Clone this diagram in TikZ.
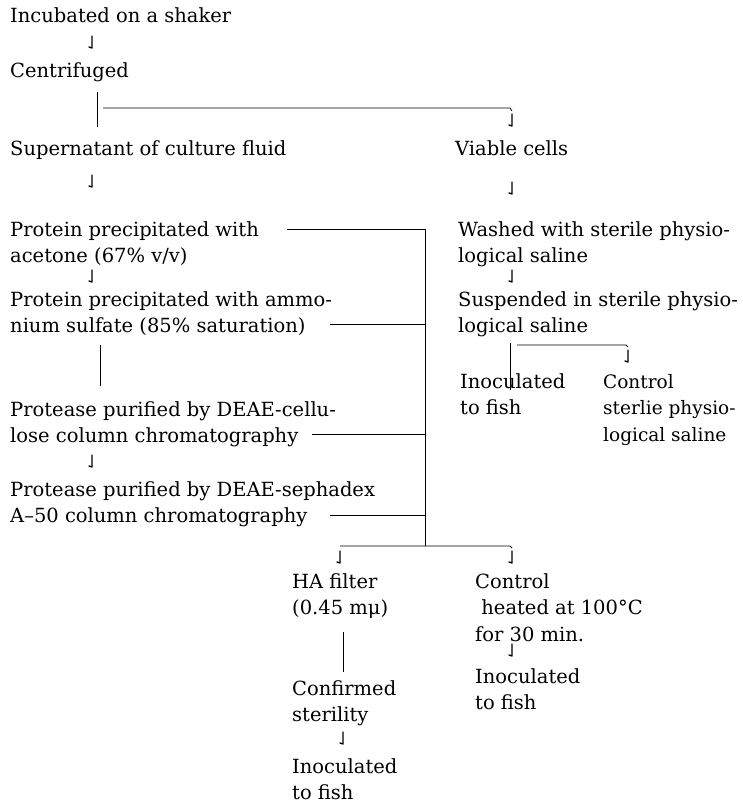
\documentclass[tikz,border=0pt]{standalone}
\usepackage{fontspec}
\setmainfont{DejaVu Serif}
\begin{document}
\begin{tikzpicture}[x=1pt,y=-1pt,
  txt/.style={anchor=base west,inner sep=0pt,align=left,font=\fontsize{19.5}{26.5}\selectfont},
  ln/.style={line width=0.8pt},
  hk/.style={line width=1.3pt,line cap=round,line join=round}]
\useasboundingbox (0,0) rectangle (743,805);
\newcommand\hookarrow[2]{\draw[hk] (#1,#2-6) -- (#1,#2+6) -- (#1-3,#2+5);}
% left column (anchor = baseline of last line)
\node[txt] (inc) at (10,23) {Incubated on a shaker};
\node[txt] (cen) at (10,78) {Centrifuged};
\node[txt] (sup) at (10,156) {Supernatant of culture fluid};
\node[txt] (ppa) at (10,262.5) {Protein precipitated with\\acetone (67\% v/v)};
\node[txt] (ppb) at (10,332.5) {Protein precipitated with ammo-\\nium sulfate (85\% saturation)};
\node[txt] (pdc) at (10,442.5) {Protease purified by DEAE-cellu-\\lose column chromatography};
\node[txt] (pds) at (10,522.5) {Protease purified by DEAE-sephadex\\A–50 column chromatography};
% right column
\node[txt] (via) at (455,156) {Viable cells};
\node[txt] (was) at (458,262.5) {Washed with sterile physio-\\logical saline};
\node[txt] (sus) at (458,332.5) {Suspended in sterile physio-\\logical saline};
\node[txt] (ino1) at (460,414.5) {Inoculated\\to fish};
\node[txt,font=\fontsize{18.5}{26.5}\selectfont] (ctl1) at (603,441) {Control\\sterlie physio-\\logical saline};
% bottom
\node[txt] (ha) at (292,614.5) {HA filter\\(0.45 mμ)};
\node[txt] (ctl2) at (475,641) {Control\\\ heated at 100°C\\for 30 min.};
\node[txt] (ino2) at (475,709.5) {Inoculated\\to fish};
\node[txt] (conf) at (292,721.5) {Confirmed\\sterility};
\node[txt] (ino3) at (292,799.5) {Inoculated\\to fish};
% arrows left column
\hookarrow{92}{42}
\hookarrow{92}{181}
\hookarrow{92}{276}
\hookarrow{92}{461}
% arrows right column
\hookarrow{512}{120}
\hookarrow{512}{188}
\hookarrow{512}{276}
\hookarrow{628}{356}
% arrows bottom
\hookarrow{340}{557}
\hookarrow{512}{557}
\hookarrow{512}{650}
\hookarrow{343}{738}
% lines
\draw[ln] (97,92) -- (97,127);
\draw[ln] (103,108) -- (510,108) -- (512,111);
\draw[ln] (100,345) -- (100,386);
\draw[ln] (510,343) -- (510,390);
\draw[ln] (517,345) -- (626,345) -- (628,347);
\draw[ln] (287,229) -- (425,229) -- (425,546);
\draw[ln] (330,324) -- (425,324);
\draw[ln] (312,434) -- (425,434);
\draw[ln] (330,515) -- (425,515);
\draw[ln] (340,546) -- (510,546) -- (512,548);
\draw[ln] (343,632) -- (343,672);
\end{tikzpicture}
\end{document}
